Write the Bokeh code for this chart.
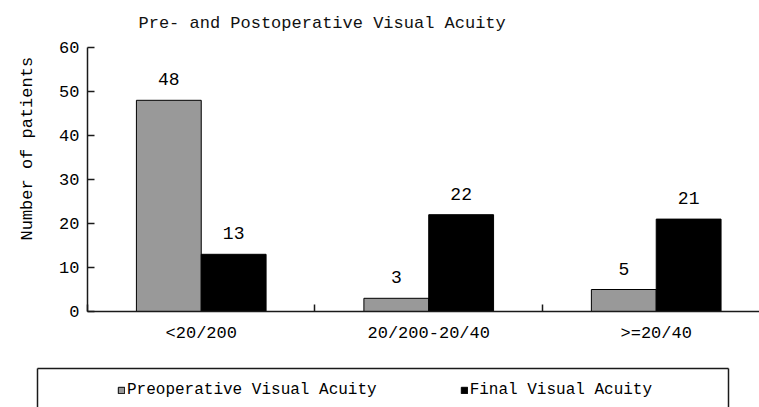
from bokeh.plotting import figure
from bokeh.models import (Range1d, FixedTicker, Legend, LegendItem, LinearAxis,
                          Title)
from bokeh.layouts import column
from bokeh.embed import file_html
from bokeh.resources import INLINE
from bokeh.core.properties import value

# ---- data ----
categories = ["<20/200", "20/200-20/40", ">=20/40"]
preoperative = [48, 3, 5]
final = [13, 22, 21]
series_names = ["Preoperative Visual Acuity", "Final Visual Acuity"]
y_ticks = [0, 10, 20, 30, 40, 50, 60]
title_text = "Pre- and Postoperative Visual Acuity"
y_label = "Number of patients"

# ---- style ----
FONT = "Liberation Mono"
GRAY = "#999999"
BAR_W = 0.285
AXIS_COLOR = "#1a1a1a"

idx = list(range(len(categories)))
pre_x = [i - BAR_W / 2 for i in idx]
fin_x = [i + BAR_W / 2 for i in idx]
boundaries = [i - 0.5 for i in idx] + [len(idx) - 0.5]

p = figure(width=759, height=367,
           x_range=Range1d(-0.5, 2.454), y_range=Range1d(0, 60),
           output_backend="svg", toolbar_location=None,
           min_border_left=87, min_border_right=0,
           min_border_top=47, min_border_bottom=56)
p.frame_align = False
p.outline_line_color = None
p.xgrid.visible = False
p.ygrid.visible = False

p.vbar(x=pre_x, top=preoperative, width=BAR_W, fill_color=GRAY,
       line_color="black", line_width=1)
p.vbar(x=fin_x, top=final, width=BAR_W, fill_color="black",
       line_color="black", line_width=1)

p.text(x=pre_x, y=preoperative, text=[str(v) for v in preoperative],
       text_align="center", text_baseline="bottom", y_offset=-15,
       text_font=value(FONT), text_font_size="18px", text_color="black")
p.text(x=fin_x, y=final, text=[str(v) for v in final],
       text_align="center", text_baseline="bottom", y_offset=-15,
       text_font=value(FONT), text_font_size="18px", text_color="black")

# x axis
xa = p.xaxis[0]
xa.ticker = FixedTicker(ticks=idx, minor_ticks=boundaries)
xa.major_label_overrides = {i: c for i, c in zip(idx, categories)}
xa.major_tick_in = 0
xa.major_tick_out = 0
xa.minor_tick_in = 7
xa.minor_tick_out = 0
xa.minor_tick_line_color = AXIS_COLOR
xa.minor_tick_line_width = 1.5
xa.axis_line_color = AXIS_COLOR
xa.axis_line_width = 1.5
xa.major_label_standoff = 12
xa.major_label_text_font = FONT
xa.major_label_text_font_size = "17px"
xa.major_label_text_color = "black"

# y axis
ya = p.yaxis[0]
ya.ticker = FixedTicker(ticks=y_ticks)
ya.major_tick_in = 7
ya.major_tick_out = 0
ya.major_tick_line_color = AXIS_COLOR
ya.major_tick_line_width = 1.5
ya.minor_tick_line_color = None
ya.axis_line_color = AXIS_COLOR
ya.axis_line_width = 1.5
ya.major_label_standoff = 8
ya.major_label_text_font = FONT
ya.major_label_text_font_size = "17px"
ya.major_label_text_color = "black"

p.add_layout(Title(text=y_label, align="left", offset=71, standoff=35,
                   vertical_align="top",
                   text_font=FONT, text_font_style="normal",
                   text_font_size="17px", text_color="black"), "left")

p.title.text = title_text
p.title.text_font = FONT
p.title.text_font_style = "normal"
p.title.text_font_size = "17px"
p.title.text_color = "#111111"
p.title.align = "left"
p.title.vertical_align = "top"
p.title.offset = 51
p.title.standoff = 25

# ---- legend strip ----
lg = figure(width=759, height=40, x_range=Range1d(-0.5, 2.454),
            y_range=Range1d(-2, -1),
            output_backend="svg", toolbar_location=None,
            min_border_left=37, min_border_right=31,
            min_border_top=1, min_border_bottom=0)
lg.frame_align = False
lg.outline_line_color = None
lg.xgrid.visible = False
lg.ygrid.visible = False
lg.xaxis.visible = False


def box_edge(ax):
    ax.ticker = FixedTicker(ticks=[])
    ax.major_tick_in = 0
    ax.major_tick_out = 0
    ax.minor_tick_line_color = None
    ax.axis_line_color = AXIS_COLOR
    ax.axis_line_width = 1.5


box_edge(lg.yaxis[0])
ra = LinearAxis()
box_edge(ra)
lg.add_layout(ra, "right")
ta = LinearAxis()
box_edge(ta)
lg.add_layout(ta, "above")

# legend-only renderers (hidden; they carry the series for the key swatches)
r_pre = lg.vbar(x=pre_x, top=preoperative, width=BAR_W,
                fill_color=GRAY, line_color="black", visible=False)
r_fin = lg.vbar(x=fin_x, top=final, width=BAR_W,
                fill_color="black", line_color="black", visible=False)

legend = Legend(items=[LegendItem(label=series_names[0], renderers=[r_pre]),
                       LegendItem(label=series_names[1], renderers=[r_fin])],
                orientation="horizontal", location=(80, 8),
                glyph_width=8, glyph_height=8, label_height=8,
                label_standoff=2, spacing=83, padding=0, margin=0,
                border_line_color=None, background_fill_alpha=0,
                label_text_font=FONT, label_text_font_size="16px",
                label_text_color="black")
lg.add_layout(legend)

layout = column(p, lg, spacing=0)
open("out.html", "w").write(file_html(layout, INLINE))
